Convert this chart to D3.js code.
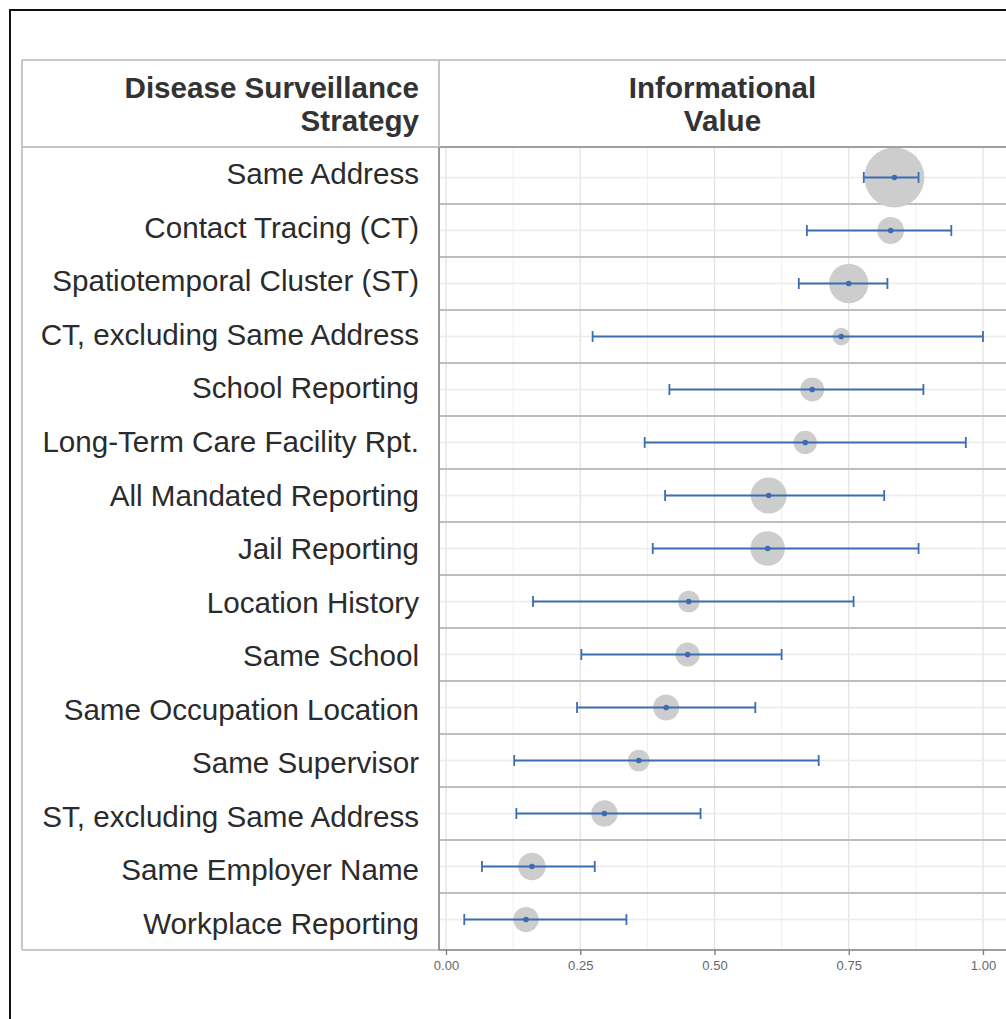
<!DOCTYPE html>
<html>
<head>
<meta charset="utf-8">
<script src="https://cdn.jsdelivr.net/npm/d3@7"></script>
<style>
  html, body { margin: 0; padding: 0; background: #fff; }
  svg { display: block; }
</style>
</head>
<body>
<svg id="chart" width="1006" height="1019"></svg>
<script>
// ---- Data ----
const categories = [
  "Same Address",
  "Contact Tracing (CT)",
  "Spatiotemporal Cluster (ST)",
  "CT, excluding Same Address",
  "School Reporting",
  "Long-Term Care Facility Rpt.",
  "All Mandated Reporting",
  "Jail Reporting",
  "Location History",
  "Same School",
  "Same Occupation Location",
  "Same Supervisor",
  "ST, excluding Same Address",
  "Same Employer Name",
  "Workplace Reporting"
];
const estimate = [0.835, 0.828, 0.750, 0.736, 0.682, 0.669, 0.601, 0.599, 0.452, 0.450, 0.410, 0.359, 0.295, 0.160, 0.149];
const lower    = [0.778, 0.672, 0.657, 0.273, 0.416, 0.370, 0.408, 0.385, 0.162, 0.252, 0.244, 0.127, 0.131, 0.067, 0.034];
const upper    = [0.880, 0.941, 0.822, 1.000, 0.889, 0.968, 0.816, 0.880, 0.759, 0.625, 0.576, 0.694, 0.474, 0.277, 0.336];
const weight   = [900, 180, 388, 77, 142, 135, 324, 299, 117, 146, 169, 117, 174, 188, 159];
const xTicks   = [0, 0.25, 0.5, 0.75, 1.0];
const xMinor   = [0.125, 0.375, 0.625, 0.875];
const headerLeft  = ["Disease Surveillance", "Strategy"];
const headerRight = ["Informational", "Value"];

// ---- Layout ----
const W = 1006, H = 1019;
const font = "'Liberation Sans', Arial, Helvetica, sans-serif";
const tableL = 22, divX = 439, plotR = 1006;
const topY = 60, headB = 147, botY = 950;
const fs = 29.6;

const svg = d3.select("#chart");

const x = d3.scaleLinear().domain([0, 1]).range([446, 983]);
const yPlot = d3.scalePoint().domain(categories).range([headB, botY]).padding(0.575);
const yTab = d3.scaleBand().domain(categories).range([headB, botY]);
const r = d3.scaleSqrt().domain([0, d3.max(weight)]).range([0, 30]);

const rows = categories.map((c, i) => ({c, est: estimate[i], lo: lower[i], hi: upper[i], w: weight[i]}));

// Outer black frame
svg.append("rect").attr("x", 10).attr("y", 10).attr("width", 1200).attr("height", 1200)
  .attr("fill", "none").attr("stroke", "#111").attr("stroke-width", 2);

// Plot clip
svg.append("clipPath").attr("id", "plotclip").append("rect")
  .attr("x", divX).attr("y", headB).attr("width", plotR - divX).attr("height", botY - headB);

const plot = svg.append("g").attr("clip-path", "url(#plotclip)");

// minor vertical grid
plot.selectAll("line.minor").data(xMinor).join("line")
  .attr("x1", d => x(d)).attr("x2", d => x(d)).attr("y1", headB).attr("y2", botY)
  .attr("stroke", "#f0f0f0").attr("stroke-width", 1);
// major vertical grid
plot.selectAll("line.major").data(xTicks).join("line")
  .attr("x1", d => x(d)).attr("x2", d => x(d)).attr("y1", headB).attr("y2", botY)
  .attr("stroke", "#e4e4e4").attr("stroke-width", 1.3);
// horizontal grid at each point
plot.selectAll("line.hgrid").data(categories).join("line")
  .attr("x1", divX).attr("x2", plotR).attr("y1", d => yPlot(d)).attr("y2", d => yPlot(d))
  .attr("stroke", "#ebebeb").attr("stroke-width", 1.3);
// row separators
const step = yPlot.step();
plot.selectAll("line.sep").data(categories.slice(0, -1)).join("line")
  .attr("x1", divX).attr("x2", plotR)
  .attr("y1", d => yPlot(d) + step / 2).attr("y2", d => yPlot(d) + step / 2)
  .attr("stroke", "#bdbdbd").attr("stroke-width", 2);

// bubbles
plot.selectAll("circle.bub").data(rows).join("circle")
  .attr("cx", d => x(d.est)).attr("cy", d => yPlot(d.c)).attr("r", d => r(d.w))
  .attr("fill", "#cdcdcd");

// error bars
const blue = "#3c6db0";
const eb = plot.selectAll("g.eb").data(rows).join("g");
eb.append("line")
  .attr("x1", d => x(d.lo)).attr("x2", d => x(d.hi))
  .attr("y1", d => yPlot(d.c)).attr("y2", d => yPlot(d.c))
  .attr("stroke", blue).attr("stroke-width", 1.8);
eb.append("line")
  .attr("x1", d => x(d.lo)).attr("x2", d => x(d.lo))
  .attr("y1", d => yPlot(d.c) - 5.5).attr("y2", d => yPlot(d.c) + 5.5)
  .attr("stroke", blue).attr("stroke-width", 1.8);
eb.append("line")
  .attr("x1", d => x(d.hi)).attr("x2", d => x(d.hi))
  .attr("y1", d => yPlot(d.c) - 5.5).attr("y2", d => yPlot(d.c) + 5.5)
  .attr("stroke", blue).attr("stroke-width", 1.8);
eb.append("circle")
  .attr("cx", d => x(d.est)).attr("cy", d => yPlot(d.c)).attr("r", 2.8)
  .attr("fill", blue);

// Table borders
svg.append("line").attr("x1", tableL).attr("x2", plotR).attr("y1", topY).attr("y2", topY)
  .attr("stroke", "#c8c8c8").attr("stroke-width", 2);
svg.append("line").attr("x1", tableL).attr("x2", tableL).attr("y1", topY).attr("y2", botY)
  .attr("stroke", "#c8c8c8").attr("stroke-width", 2);
svg.append("line").attr("x1", tableL).attr("x2", divX).attr("y1", botY).attr("y2", botY)
  .attr("stroke", "#c8c8c8").attr("stroke-width", 2);
svg.append("line").attr("x1", tableL).attr("x2", divX).attr("y1", headB).attr("y2", headB)
  .attr("stroke", "#c4c4c4").attr("stroke-width", 2);
svg.append("line").attr("x1", divX).attr("x2", plotR).attr("y1", headB).attr("y2", headB)
  .attr("stroke", "#a0a0a0").attr("stroke-width", 2);
svg.append("line").attr("x1", divX).attr("x2", divX).attr("y1", topY).attr("y2", headB)
  .attr("stroke", "#c4c4c4").attr("stroke-width", 2);
svg.append("line").attr("x1", divX).attr("x2", divX).attr("y1", headB).attr("y2", botY)
  .attr("stroke", "#9a9a9a").attr("stroke-width", 2);

// X axis
const xAxis = d3.axisBottom(x).tickValues(xTicks).tickFormat(d3.format(".2f")).tickSize(5).tickSizeOuter(0);
const ax = svg.append("g").attr("transform", `translate(0,${botY})`).call(xAxis);
ax.select(".domain").remove();
ax.selectAll(".tick line").attr("stroke", "#7a7a7a").attr("stroke-width", 1.3);
ax.selectAll(".tick text").attr("fill", "#666").attr("font-family", font).attr("font-size", 13)
  .attr("y", 0).attr("dy", null).attr("transform", "translate(0,19.5)");
svg.append("line").attr("x1", divX).attr("x2", plotR).attr("y1", botY).attr("y2", botY)
  .attr("stroke", "#7f7f7f").attr("stroke-width", 1.6);

// Header text
const headBase = [98, 131];
svg.selectAll("text.hl").data(headerLeft).join("text")
  .attr("x", 419).attr("y", (d, i) => headBase[i])
  .attr("text-anchor", "end").attr("font-family", font).attr("font-weight", "bold")
  .attr("font-size", fs).attr("fill", "#333").text(d => d);
svg.selectAll("text.hr").data(headerRight).join("text")
  .attr("x", (divX + plotR) / 2).attr("y", (d, i) => headBase[i])
  .attr("text-anchor", "middle").attr("font-family", font).attr("font-weight", "bold")
  .attr("font-size", fs).attr("fill", "#333").text(d => d);

// Row labels
svg.selectAll("text.lab").data(categories).join("text")
  .attr("x", 419).attr("y", d => yTab(d) + yTab.bandwidth() / 2 + 0.358 * fs)
  .attr("text-anchor", "end").attr("font-family", font)
  .attr("font-size", fs).attr("fill", "#2b2b2b").text(d => d);
</script>
</body>
</html>
